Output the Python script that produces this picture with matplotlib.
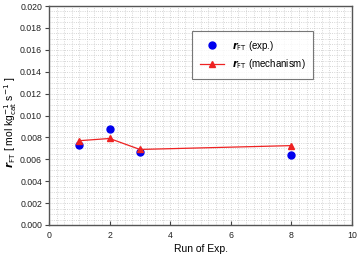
import matplotlib
matplotlib.use("Agg")
from matplotlib import pyplot as plt
from matplotlib.ticker import MultipleLocator

plt.rcParams['font.family'] = ['Liberation Sans', 'DejaVu Sans']

# data
run_exp = [1, 2, 3, 8]
r_exp = [0.00727, 0.00879, 0.00665, 0.0064]
r_mech = [0.0077, 0.0079, 0.0069, 0.00725]

fig = plt.figure(figsize=(3.59, 2.54), dpi=100)
ax = fig.add_axes([49/359, 1 - 225/254, 303/359, 219/254])

ax.plot(run_exp, r_exp, 'o', color='#0000ee', markersize=5,
        label=r'$\boldsymbol{r}_{\mathrm{FT}}$ (exp.)', zorder=3)
ax.plot(run_exp, r_mech, '-^', color='#ee2222', markersize=4.5, linewidth=0.9,
        label=r'$\boldsymbol{r}_{\mathrm{FT}}$ (mechanism)', zorder=3)

ax.set_xlim(0, 10)
ax.set_ylim(0, 0.020)
ax.xaxis.set_major_locator(MultipleLocator(2))
ax.yaxis.set_major_locator(MultipleLocator(0.002))
ax.xaxis.set_minor_locator(MultipleLocator(0.25))
ax.yaxis.set_minor_locator(MultipleLocator(0.0005))
ax.yaxis.set_major_formatter(matplotlib.ticker.FormatStrFormatter('%.3f'))
ax.grid(which='both', color='#c8c8c8', linestyle=':', linewidth=0.6)
ax.set_axisbelow(True)
ax.tick_params(axis='both', which='major', labelsize=6.3, length=3, color='#444444',
               labelcolor='#222222')
ax.tick_params(axis='x', direction='in', pad=4)
ax.tick_params(axis='y', direction='out', pad=2)
ax.tick_params(which='minor', length=0)
for s in ax.spines.values():
    s.set_color('#555555')
    s.set_linewidth(1.0)

# x label sits at the very bottom edge, as in the reference
ax.set_xlabel('Run of Exp.', fontsize=7.5)
ax.xaxis.set_label_coords(0.5, -0.088)
ax.set_ylabel(r'$\boldsymbol{r}_{\mathrm{FT}}$ [ mol kg$_{\mathrm{cat}}^{-1}$ s$^{-1}$ ]',
              fontsize=7.5)
ax.yaxis.set_label_coords(-0.1, 0.47)

leg = ax.legend(loc='upper right', bbox_to_anchor=(0.888, 0.909), fontsize=7,
                frameon=True, fancybox=False, edgecolor='#555555',
                borderpad=0.8, handlelength=2.5, labelspacing=0.5)
leg.get_frame().set_linewidth(0.8)

fig.savefig('out.png', dpi=100)
